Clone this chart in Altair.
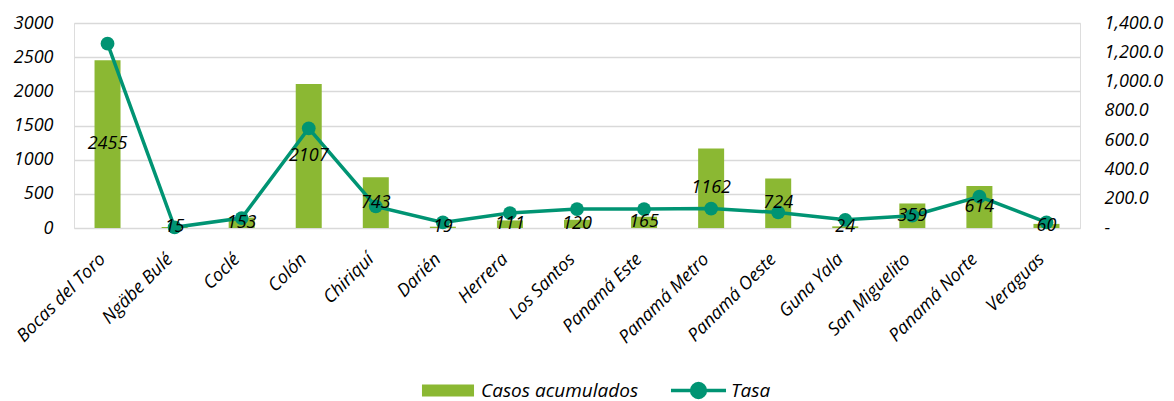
import altair as alt
import pandas as pd

regiones = ["Bocas del Toro", "Ngäbe Bulé", "Coclé", "Colón", "Chiriquí", "Darién",
            "Herrera", "Los Santos", "Panamá Este", "Panamá Metro", "Panamá Oeste",
            "Guna Yala", "San Miguelito", "Panamá Norte", "Veraguas"]
casos = [2455, 15, 153, 2107, 743, 19, 111, 120, 165, 1162, 724, 24, 359, 614, 60]
tasa = [1259, 5, 68, 681, 147, 38, 102, 129, 129, 133, 106, 56, 84, 215, 38]

df = pd.DataFrame({"region": regiones, "casos": casos, "tasa": tasa})
df["mitad"] = df["casos"] / 2
df["s1"] = "Casos acumulados"
df["s2"] = "Tasa"

FONT = "Open Sans"
BAR = "#8BB833"
LINE = "#009473"

x = alt.X("region:N", sort=regiones, title=None,
          scale=alt.Scale(paddingInner=0, paddingOuter=0),
          axis=alt.Axis(labelAngle=-45, labelFont=FONT, labelFontStyle="italic",
                        labelFontSize=18, labelColor="#000000", ticks=False,
                        domain=False, labelPadding=22, labelOffset=-11, labelAlign="right",
                        labelBaseline="top", labelOverlap=False))
xs = alt.X("region:N", sort=regiones)

base = alt.Chart(df)

bars = base.mark_bar(size=26).encode(
    x=x,
    y=alt.Y("casos:Q", title=None,
            scale=alt.Scale(domain=[0, 3000]),
            axis=alt.Axis(values=[0, 500, 1000, 1500, 2000, 2500, 3000], format="d",
                          labelFont=FONT, labelFontStyle="italic", labelFontSize=18,
                          labelColor="#000000", ticks=False, domain=False,
                          labelOverlap=False, labelPadding=21, grid=True,
                          gridColor="#D9D9D9", gridWidth=1.5)),
    color=alt.Color("s1:N", scale=alt.Scale(domain=["Casos acumulados"], range=[BAR]),
                    legend=alt.Legend(title=None, orient="none", legendX=364.5, legendY=358,
                                      symbolType="M-3.47,-0.8H3.47V0.8H-3.47Z", symbolSize=225,
                                      symbolStrokeWidth=0, labelOffset=23.5,
                                      labelFont=FONT, labelFontStyle="italic",
                                      labelFontSize=19, labelColor="#000000")),
)

line = base.mark_line(strokeWidth=3.5).encode(
    x=xs,
    y=alt.Y("tasa:Q", title=None, scale=alt.Scale(domain=[0, 1400]),
            axis=alt.Axis(orient="right", values=[0, 200, 400, 600, 800, 1000, 1200, 1400],
                          labelExpr="datum.value == 0 ? '  -' : format(datum.value, ',.1f')",
                          labelFont=FONT, labelFontStyle="italic", labelFontSize=18,
                          labelColor="#000000", ticks=False, domain=False,
                          labelOverlap=False, labelPadding=24, grid=False)),
    stroke=alt.Stroke("s2:N", scale=alt.Scale(domain=["Tasa"], range=[LINE]),
                      legend=alt.Legend(title=None, orient="none", legendX=615, legendY=358,
                                        symbolType="M-3.67,0H3.67M0.92,0A0.92,0.92,0,1,1,-0.92,0A0.92,0.92,0,1,1,0.92,0Z",
                                        symbolSize=225, symbolStrokeWidth=3.5,
                                        symbolFillColor=LINE, labelOffset=23,
                                        labelFont=FONT, labelFontStyle="italic",
                                        labelFontSize=19, labelColor="#000000")),
)

points = base.mark_point(filled=True, size=190, opacity=1, color=LINE).encode(
    x=xs,
    y=alt.Y("tasa:Q", scale=alt.Scale(domain=[0, 1400]), axis=None),
)

labels = base.mark_text(font=FONT, fontStyle="italic", fontSize=18, color="#000000",
                        baseline="middle", align="center").encode(
    x=xs,
    y=alt.Y("mitad:Q", scale=alt.Scale(domain=[0, 3000]), axis=None),
    text=alt.Text("casos:Q"),
)

chart = alt.layer(bars, line, points, labels).resolve_scale(y="independent").properties(
    width=1006, height=205,
    autosize=alt.AutoSizeParams(type="none"),
    padding={"left": 66, "top": 15, "right": 86, "bottom": 173},
).configure_view(stroke=None).configure_axis(domain=False).configure(background="#FFFFFF")

chart.save("out.html", embed_options={"renderer": "svg", "actions": False})
